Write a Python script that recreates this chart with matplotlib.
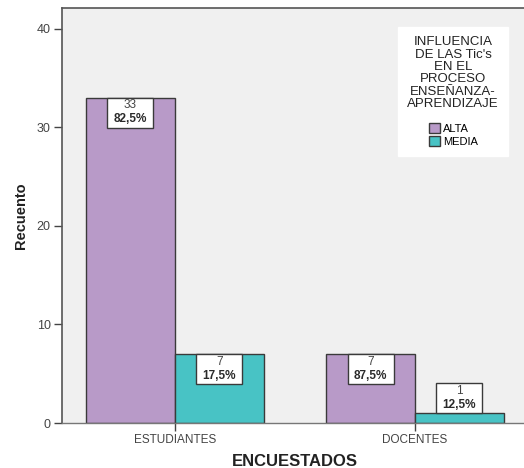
import matplotlib
matplotlib.use("Agg")
import matplotlib.pyplot as plt
import matplotlib.transforms as mtransforms
from matplotlib.patches import Rectangle
import numpy as np

plt.rcParams['font.family'] = ['Liberation Sans', 'DejaVu Sans']

categories = ["ESTUDIANTES", "DOCENTES"]
series_names = ["ALTA", "MEDIA"]
counts = {
    "ALTA": [33, 7],
    "MEDIA": [7, 1],
}
percent_labels = {
    "ALTA": ["82,5%", "87,5%"],
    "MEDIA": ["17,5%", "12,5%"],
}
y_ticks = [0, 10, 20, 30, 40]
legend_title = "INFLUENCIA\nDE LAS Tic's\nEN EL\nPROCESO\nENSEÑANZA-\nAPRENDIZAJE"

colors = {"ALTA": "#B89AC8", "MEDIA": "#48C3C5"}
edge = "#3a3a3a"

fig = plt.figure(figsize=(5.24, 4.68), dpi=100)
ax = fig.add_axes([0.118, 0.096, 0.882, 0.887])
ax.set_facecolor("#F0F0F0")

x = np.arange(len(categories))
width = 0.37
offsets = {"ALTA": -width / 2, "MEDIA": width / 2}

handles = []
for name in series_names:
    bars = ax.bar(x + offsets[name], counts[name], width=width,
                  color=colors[name], edgecolor=edge, linewidth=1.0,
                  label=name, zorder=2)
    handles.append(bars)

ax.set_ylim(0, 42.1)
ax.set_xlim(-0.471, 1.454)

# value boxes: fixed size in inches, anchored at the bar top
box_w, box_h = 0.46, 0.30
fs_lab = 8.5
for name in series_names:
    for xi, v, pct in zip(x + offsets[name], counts[name], percent_labels[name]):
        anchor = mtransforms.ScaledTranslation(xi, v, ax.transData)
        trans = fig.dpi_scale_trans + anchor
        inside = v >= 4
        y0 = -box_h if inside else 0.0
        ax.add_patch(Rectangle((-box_w / 2, y0), box_w, box_h, transform=trans,
                               facecolor="white", edgecolor=edge, lw=1.0,
                               zorder=3, clip_on=False))
        ax.text(0, y0 + box_h - 0.075, f"{v}", transform=trans, ha="center",
                va="center", fontsize=fs_lab, color="#444444", zorder=4)
        ax.text(0, y0 + box_h - 0.215, pct, transform=trans, ha="center",
                va="center", fontsize=fs_lab, fontweight="bold",
                color="#2a2a2a", zorder=4)

ax.set_xticks(x)
ax.set_xticklabels(categories, fontsize=8.5, color="#444444")
ax.set_yticks(y_ticks)
ax.set_yticklabels([str(t) for t in y_ticks], fontsize=9, color="#444444")
ax.tick_params(axis="both", length=6, width=1.0, color="#444444", pad=2)

for side in ["left", "top"]:
    ax.spines[side].set_color("#555555")
    ax.spines[side].set_linewidth(1.2)
ax.spines["bottom"].set_color("#777777")
ax.spines["bottom"].set_linewidth(1.0)
ax.spines["right"].set_visible(False)

ax.set_ylabel("Recuento", fontsize=10.5, fontweight="bold", color="#222222")
ax.yaxis.set_label_coords(-0.073, 0.5)
ax.set_xlabel("ENCUESTADOS", fontsize=12, fontweight="bold", color="#222222")
ax.xaxis.set_label_coords(0.505, -0.075)

leg = fig.legend(handles=handles, labels=series_names, title=legend_title,
                 loc="upper right", bbox_to_anchor=(0.981, 0.955),
                 fontsize=8, title_fontsize=9.5, alignment="center",
                 frameon=True, fancybox=False, edgecolor="white",
                 facecolor="white", framealpha=1.0,
                 handlelength=1.0, handleheight=1.0, handletextpad=0.25,
                 labelspacing=0.2, borderpad=0.85)
leg.get_title().set_multialignment("center")
leg.get_title().set_linespacing(1.05)
leg.get_title().set_color("#222222")
leg._legend_box.sep = 9

fig.savefig("out.png", dpi=100, facecolor="white")
